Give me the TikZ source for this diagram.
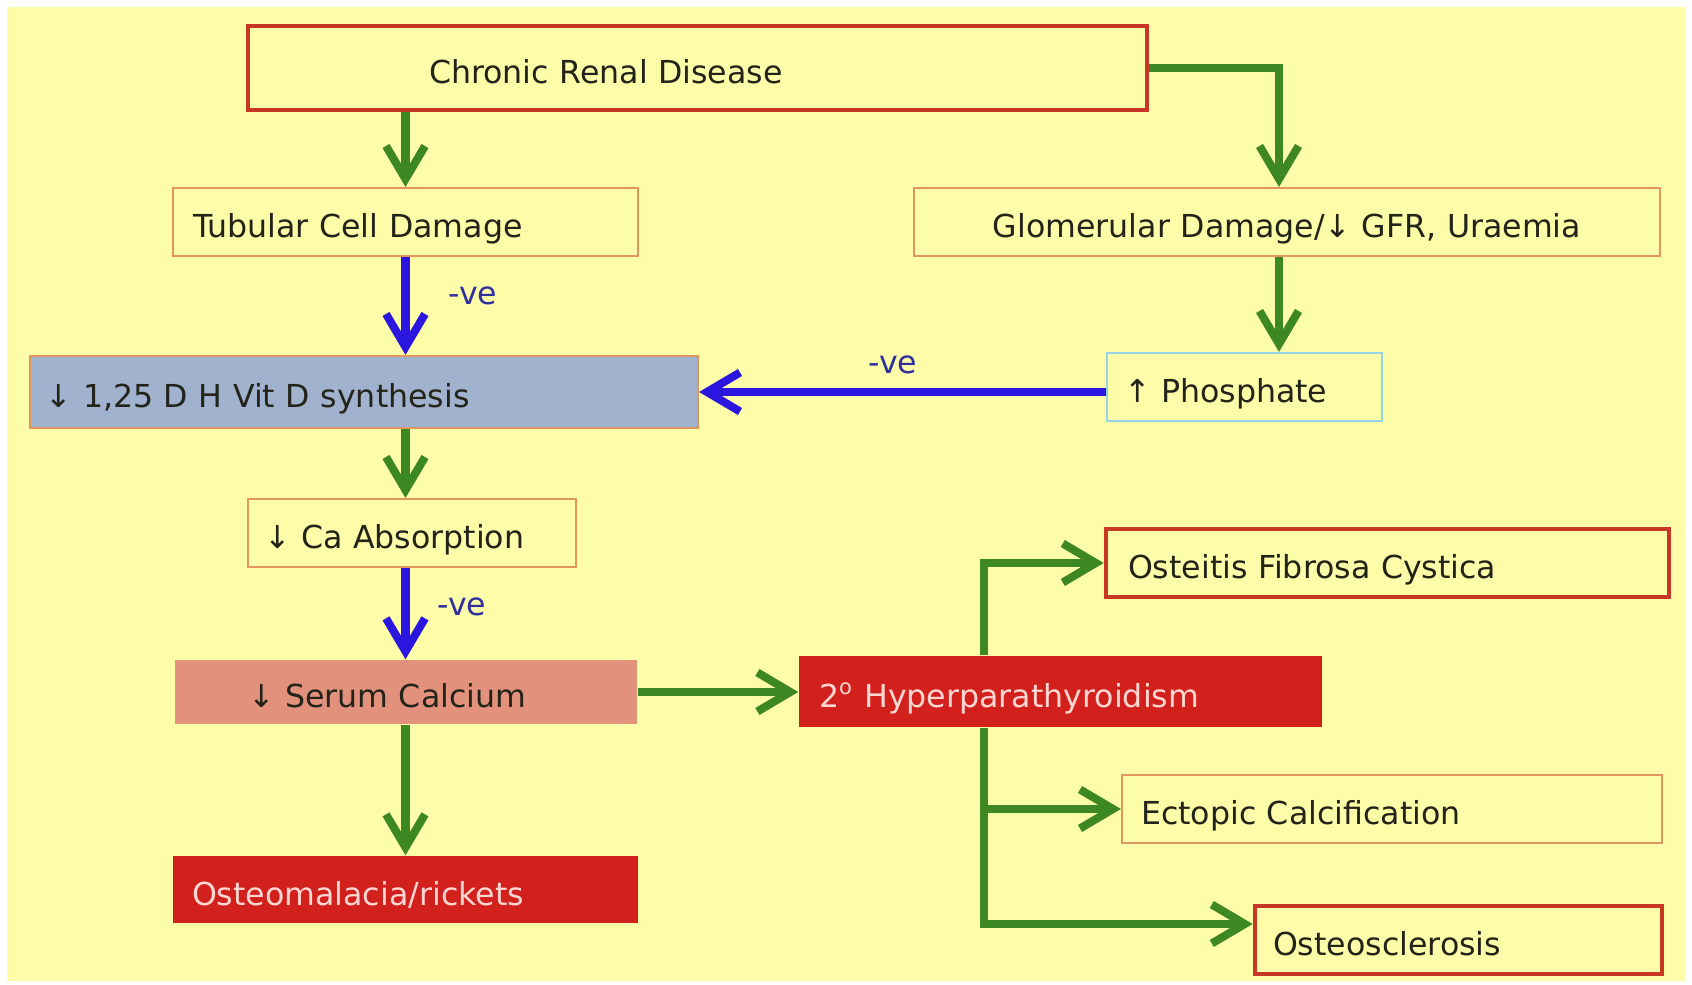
\documentclass[tikz,border=0pt]{standalone}
\usepackage{fontspec}
\setmainfont{DejaVu Sans}
\usetikzlibrary{arrows.meta,positioning}
\definecolor{bgyellow}{RGB}{253,252,168}
\definecolor{boxred}{RGB}{200,55,35}
\definecolor{boxorange}{RGB}{225,150,95}
\definecolor{boxfillred}{RGB}{210,32,28}
\definecolor{vitblue}{RGB}{160,178,205}
\definecolor{serumpink}{RGB}{226,146,124}
\definecolor{phosblue}{RGB}{150,210,232}
\definecolor{arrgreen}{RGB}{62,136,36}
\definecolor{arrblue}{RGB}{42,22,222}
\definecolor{vetext}{RGB}{48,48,160}
\definecolor{darktext}{RGB}{35,35,25}
\definecolor{paletext}{RGB}{255,215,210}
\tikzset{
  box/.style={draw, fill=bgyellow, align=left, inner xsep=0.2cm, inner ysep=0pt,
    text height=0.32cm, text depth=0cm,
    font=\fontsize{9pt}{11pt}\selectfont, text=darktext},
  redbox/.style={box, draw=boxred, line width=1.3pt},
  thinbox/.style={box, draw=boxorange, line width=0.6pt},
  filledbox/.style={box, draw=none, fill=boxfillred, text=paletext},
  garrow/.style={draw=arrgreen, line width=2.3pt, -{Straight Barb[length=3.3mm, width=3.9mm]}},
  barrow/.style={draw=arrblue, line width=2.3pt, -{Straight Barb[length=3.3mm, width=3.9mm]}},
  velabel/.style={font=\fontsize{9pt}{11pt}\selectfont, text=vetext}
}

\begin{document}
\begin{tikzpicture}
  \useasboundingbox (0,0) rectangle (16.92,9.85);
  \fill[white] (0,0) rectangle (16.92,9.85);
  \fill[bgyellow] (0.07,0.04) rectangle (16.85,9.78);

  %--- Renal side ---
  \node[redbox, text width=8.59cm, minimum height=0.84cm] (crd) at (6.975,9.17) {\hspace*{1.61cm}Chronic Renal Disease};
  \node[thinbox, text width=4.25cm, minimum height=0.68cm] (tub) at (4.055,7.63) {Tubular Cell Damage};
  \node[thinbox, text width=7.06cm, minimum height=0.68cm, align=center] (glom) at (12.87,7.63) {Glomerular Damage/↓ GFR, Uraemia};
  \node[thinbox, fill=vitblue, text width=6.36cm, minimum height=0.72cm, inner xsep=0.16cm] (vitd) at (3.64,5.93) {↓ 1,25 D H Vit D synthesis};
  \node[box, draw=phosblue, line width=0.6pt, text width=2.41cm, minimum height=0.68cm, inner xsep=0.17cm] (phos) at (12.445,5.98) {↑ Phosphate};

  %--- Calcium chain ---
  \node[thinbox, text width=2.96cm, minimum height=0.68cm, inner xsep=0.16cm] (caab) at (4.12,4.52) {↓ Ca Absorption};
  \node[box, draw=none, fill=serumpink, text width=4.22cm, minimum height=0.64cm] (serum) at (4.06,2.93) {\hspace*{0.53cm}↓ Serum Calcium};
  \node[filledbox, text width=4.83cm, minimum height=0.71cm] (hpt) at (10.605,2.935) {2\textsuperscript{o} Hyperparathyroidism};
  \node[filledbox, text width=4.27cm, minimum height=0.67cm, inner xsep=0.19cm] (osteom) at (4.055,0.955) {Osteomalacia/rickets};

  %--- Bone outcomes ---
  \node[redbox, text width=5.19cm, minimum height=0.68cm, inner xsep=0.22cm] (ofc) at (13.875,4.22) {Osteitis Fibrosa Cystica};
  \node[thinbox, text width=5.02cm, minimum height=0.68cm, inner xsep=0.19cm] (ectopic) at (13.92,1.76) {Ectopic Calcification};
  \node[redbox, text width=3.71cm, minimum height=0.68cm, inner xsep=0.18cm] (osclero) at (14.585,0.45) {Osteosclerosis};

  % labels on the blue arrows
  \node[velabel] (ve1) at (4.73,6.89) {-ve};
  \node[velabel] (ve2) at (8.93,6.20) {-ve};
  \node[velabel] (ve3) at (4.62,3.78) {-ve};

  \coordinate (rspine) at (12.79,9.17);
  \coordinate (hspine) at (9.84,0.61);

  % Arrows
  \draw[garrow] (crd.south -| tub.north) -- (tub.north);
  \draw[garrow] (crd.east) -| (glom.north -| rspine);
  \draw[barrow] (tub.south) -- (vitd.north -| tub.south);
  \draw[garrow] (glom.south -| rspine) -- (phos.north -| rspine);
  \draw[barrow] (phos.west |- vitd.east) -- (vitd.east);
  \draw[garrow] (vitd.south -| tub.south) -- (caab.north -| tub.south);
  \draw[barrow] (caab.south -| tub.south) -- (serum.north -| tub.south);
  \draw[garrow] (serum.east) -- (serum.east -| hpt.west);
  \draw[garrow] (serum.south -| tub.south) -- (osteom.north -| tub.south);
  \draw[garrow] (hpt.north -| hspine) |- (ofc.west);
  \draw[garrow] (hpt.south -| hspine) |- (ectopic.west);
  \draw[garrow] (hpt.south -| hspine) |- (osclero.west |- hspine);
\end{tikzpicture}
\end{document}
